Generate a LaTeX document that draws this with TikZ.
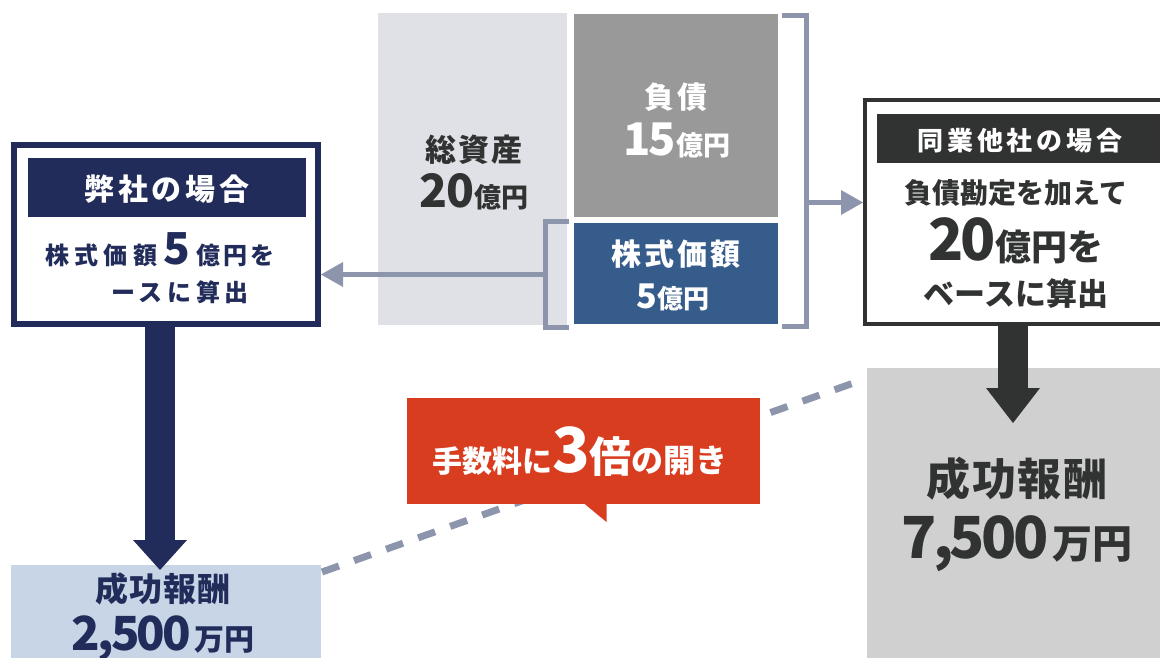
\documentclass[tikz,border=0pt]{standalone}
\usepackage{fontspec}
\setmainfont{Noto Sans CJK JP}
\usetikzlibrary{arrows.meta,calc,positioning}
\definecolor{navy}{HTML}{222C5A}
\definecolor{paleblue}{HTML}{C8D5E6}
\definecolor{linkgray}{HTML}{8C95AB}
\definecolor{assetgray}{HTML}{E0E1E6}
\definecolor{debtgray}{HTML}{999999}
\definecolor{equityblue}{HTML}{365C8B}
\definecolor{darkgray}{HTML}{313232}
\definecolor{feegray}{HTML}{D0D0D0}
\definecolor{alertred}{HTML}{D93D20}
\newcommand\fsz[1]{\fontsize{#1}{#1}\selectfont}
\newcommand\lsp[1]{\addfontfeatures{LetterSpace=#1}}
\tikzset{%
	panel/.style     = {rectangle, inner sep=0pt, outer sep=0pt},
	txt/.style       = {inner sep=0pt, anchor=base, font=\bfseries},
	link/.style      = {draw=linkgray, line width=5pt},
	linkarrow/.style = {link, -{Triangle[length=22pt,width=25pt,line width=0pt]}},
	bigarrow/.style  = {line width=30pt, -{Triangle[length=#1,width=54pt,line width=0pt]}},
	bigarrow/.default = 32pt,
}

\begin{document}
\begin{tikzpicture}[x=1pt,y=-1pt]
	\useasboundingbox (0,0) rectangle (1160,657);
	
	% balance sheet
	\node[panel, fill=assetgray, minimum width=189pt, minimum height=312pt] (assets) at (472.5,169) {};
	\node[panel, fill=debtgray, minimum width=204pt, minimum height=203pt] (debt) at (676,115.5) {};
	\node[panel, fill=equityblue, minimum width=204pt, minimum height=101pt] (equity) at (676,273.5) {};
	\node[txt, text=darkgray] (assetsA) at (474,161) {\fsz{31}\lsp{5}総資産};
	\node[txt, text=darkgray] (assetsB) at (474,207) {{\fsz{46}\lsp{-3}20}\fsz{27}億円};
	\node[txt, text=white] (debtA) at (676,108) {\fsz{30}\lsp{8}負債};
	\node[txt, text=white] (debtB) at (677,155) {{\fsz{45}\lsp{-6}15}\fsz{27}億円};
	\node[txt, text=white] (equityA) at (676,265) {\fsz{30}\lsp{9}株式価額};
	\node[txt, text=white] (equityB) at (673,308) {\fsz{34}5\fsz{26}億円};
	
	\draw[link] (569,221) -| (545,327) -- (569,327);  % equity bracket
	\draw[link] (782,15) -| (806,326) -- (782,326);   % debt + equity bracket
	
	% our case
	\node[panel, draw=navy, line width=6pt, outer sep=3pt, minimum width=304pt, minimum height=179pt] (ours) at (166,234.5) {};
	\node[panel, fill=navy, minimum width=278pt, minimum height=59pt] (oursHead) at (167,187.5) {};
	\node[txt, text=white] (oursTitle) at (167,200) {\fsz{30}\lsp{12}弊社の場合};
	\node[txt, text=navy] (oursA) at (160,264) {{\fsz{24}\lsp{22}株式価額}\hspace{6pt}{\fsz{44}5}\hspace{7pt}{\fsz{24}\lsp{12}億円を}};
	\node[txt, text=navy] (oursB) at (180,301) {\fsz{24}\lsp{20}ースに算出};
	
	\node[panel, fill=paleblue, minimum width=310pt, minimum height=95pt] (oursFee) at (166,612.5) {};
	\draw[navy, bigarrow=30pt] ($(ours.south)+(-6,0)$) -- ($(oursFee.north)+(-6,5)$);
	\node[txt, text=navy] (oursFeeA) at (163,601) {\fsz{33}\lsp{3}成功報酬};
	\node[txt, text=navy] (oursFeeB) at (163,650) {{\fsz{47}\lsp{-6}2,500}\hspace{3pt}\fsz{30}万円};
	
	% peer case
	\node[panel, draw=darkgray, line width=4pt, outer sep=2pt, minimum width=335pt, minimum height=224pt] (peer) at (1032.5,212) {};
	\node[panel, fill=darkgray, minimum width=285pt, minimum height=49pt] (peerHead) at (1019.5,138.5) {};
	\node[txt, text=white] (peerTitle) at (1020,150) {\fsz{26}\lsp{15}同業他社の場合};
	\node[txt, text=darkgray] (peerA) at (1016,203) {\fsz{28}負債勘定を加えて};
	\node[txt, text=darkgray] (peerB) at (1016,260) {{\fsz{58}\lsp{-6}20}\fsz{36}億円を};
	\node[txt, text=darkgray] (peerC) at (1016,305) {\fsz{31}ベースに算出};
	
	\node[panel, fill=feegray, minimum width=298pt, minimum height=292pt] (peerFee) at (1016,514) {};
	\draw[darkgray, bigarrow=35pt] ($(peer.south)+(-19.5,0)$) -- ($(peerFee.north)+(-3,55)$);
	\node[txt, text=darkgray] (peerFeeA) at (1017,495) {\fsz{44}\lsp{4}成功報酬};
	\node[txt, text=darkgray] (peerFeeB) at (1017,558) {{\fsz{58}\lsp{-6}7,500}\hspace{4pt}\fsz{40}万円};
	
	% links
	\coordinate (equityTap) at (545,274.5);
	\coordinate (debtTap) at (806,202.5);
	\draw[linkarrow] (equityTap) -- (equityTap -| ours.east);
	\draw[linkarrow] (debtTap) -- (debtTap -| peer.west);
	
	\draw[linkgray, line width=7pt, dash pattern=on 18pt off 16pt] ($(oursFee.north east)+(1,7)$) -- ($(peerFee.north west)+(-5,12)$);
	
	% callout
	\node[panel, fill=alertred, minimum width=353pt, minimum height=106pt] (gap) at (583.5,451) {};
	\fill[alertred] ($(gap.south)+(0,-1)$) -- ++(23,0) -- ++(0,19) -- cycle;
	\node[txt, text=white] (gapText) at (580,472) {\fsz{30}手数料に\fsz{62}3\fsz{42}倍\fsz{32}の開き};
\end{tikzpicture}
\end{document}
